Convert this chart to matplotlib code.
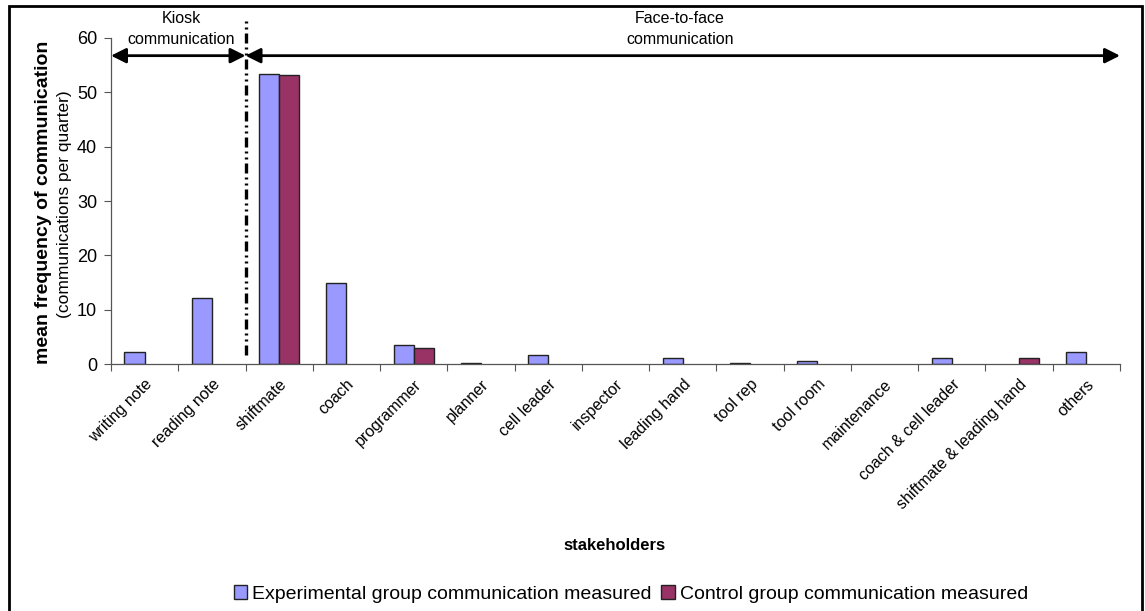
import matplotlib
matplotlib.use('Agg')
import matplotlib.pyplot as plt
import numpy as np
from matplotlib.patches import Rectangle

plt.rcParams['font.family'] = ['Liberation Sans', 'DejaVu Sans']

# data
categories = ['writing note', 'reading note', 'shiftmate', 'coach', 'programmer',
              'planner', 'cell leader', 'inspector', 'leading hand', 'tool rep',
              'tool room', 'maintenance', 'coach & cell leader',
              'shiftmate & leading hand', 'others']
experimental = [2.2, 12.2, 53.4, 14.9, 3.6, 0.2, 1.75, 0, 1.1, 0.2, 0.55, 0, 1.1, 0, 2.2]
control = [0, 0, 53.1, 0, 3.05, 0, 0, 0, 0, 0, 0, 0, 0, 1.1, 0]
yticks = [0, 10, 20, 30, 40, 50, 60]

BLUE = '#9999FF'
PLUM = '#993366'

W, H = 1145, 611
fig = plt.figure(figsize=(W / 100, H / 100), dpi=100)
ax = fig.add_axes([111 / W, 1 - 364.3 / H, (1120 - 111) / W, (364.3 - 37.7) / H])

x = np.arange(len(categories))
bw = 0.3
exp = np.array(experimental, dtype=float)
ctl = np.array(control, dtype=float)
# empty categories get no bar at all (Excel draws nothing for 0)
ax.bar(x - bw / 2, np.where(exp > 0, exp, np.nan), bw, color=BLUE, edgecolor='#222222',
       linewidth=1.0, label='Experimental group communication measured')
ax.bar(x + bw / 2, np.where(ctl > 0, ctl, np.nan), bw, color=PLUM, edgecolor='#222222',
       linewidth=1.0, label='Control group communication measured')

ax.set_xlim(-0.5, len(categories) - 0.5)
ax.set_ylim(0, 60)
ax.set_yticks(yticks)
ax.tick_params(axis='y', labelsize=13, length=5, width=0.8, color='#555555', pad=5)

# ticks on category boundaries, labels at centres
ax.set_xticks(np.arange(len(categories) + 1) - 0.5)
ax.set_xticklabels([])
ax.set_xticks(x, minor=True)
ax.set_xticklabels(categories, minor=True, rotation=45, ha='right',
                   rotation_mode='anchor', fontsize=11.5)
ax.tick_params(axis='x', which='major', length=5, width=0.8, color='#555555')
ax.tick_params(axis='x', which='minor', length=0, pad=9)

for side in ['top', 'right']:
    ax.spines[side].set_visible(False)
for side in ['left', 'bottom']:
    ax.spines[side].set_color('#555555')
    ax.spines[side].set_linewidth(0.9)

# divider between kiosk and face-to-face
ax.plot([1.5, 1.5], [1.7, 63.5], color='black', linewidth=2.4,
        linestyle=(0, (3, 1.2, 0.6, 1.2, 0.6, 1.2)), clip_on=False, zorder=5)

arrow_y = 56.7
aprops = dict(arrowstyle='<|-|>,head_length=0.9,head_width=0.45', color='black',
              linewidth=2, shrinkA=0, shrinkB=0)
ax.annotate('', xy=(-0.5, arrow_y), xytext=(1.5, arrow_y), arrowprops=aprops,
            annotation_clip=False)
ax.annotate('', xy=(1.5, arrow_y), xytext=(14.5, arrow_y), arrowprops=aprops,
            annotation_clip=False)

fig.text(181 / W, 1 - 29 / H, 'Kiosk\ncommunication', ha='center', va='center',
         fontsize=11.5, linespacing=1.5)
fig.text(680 / W, 1 - 29 / H, 'Face-to-face\ncommunication', ha='center', va='center',
         fontsize=11.5, linespacing=1.5)

# y-axis titles
fig.text(44 / W, 1 - 202 / H, 'mean frequency of communication', rotation=90,
         ha='center', va='center', fontsize=14, fontweight='bold')
fig.text(65 / W, 1 - 204 / H, '(communications per quarter)', rotation=90,
         ha='center', va='center', fontsize=12.5)

fig.text(615 / W, 1 - 545 / H, 'stakeholders', ha='center', va='center',
         fontsize=12, fontweight='bold')

fig.legend(loc='center', bbox_to_anchor=(631 / W, 1 - 594 / H), ncol=2,
           frameon=False, fontsize=14, handlelength=0.7, handleheight=0.7,
           handletextpad=0.25, columnspacing=0.5, borderpad=0)

# outer chart border
fig.patches.append(Rectangle((8.5 / W, -0.01), (1142 - 8.5) / W, 1 - 6 / H + 0.01,
                             transform=fig.transFigure, fill=False,
                             edgecolor='black', linewidth=2))

fig.savefig('out.png', dpi=100)
